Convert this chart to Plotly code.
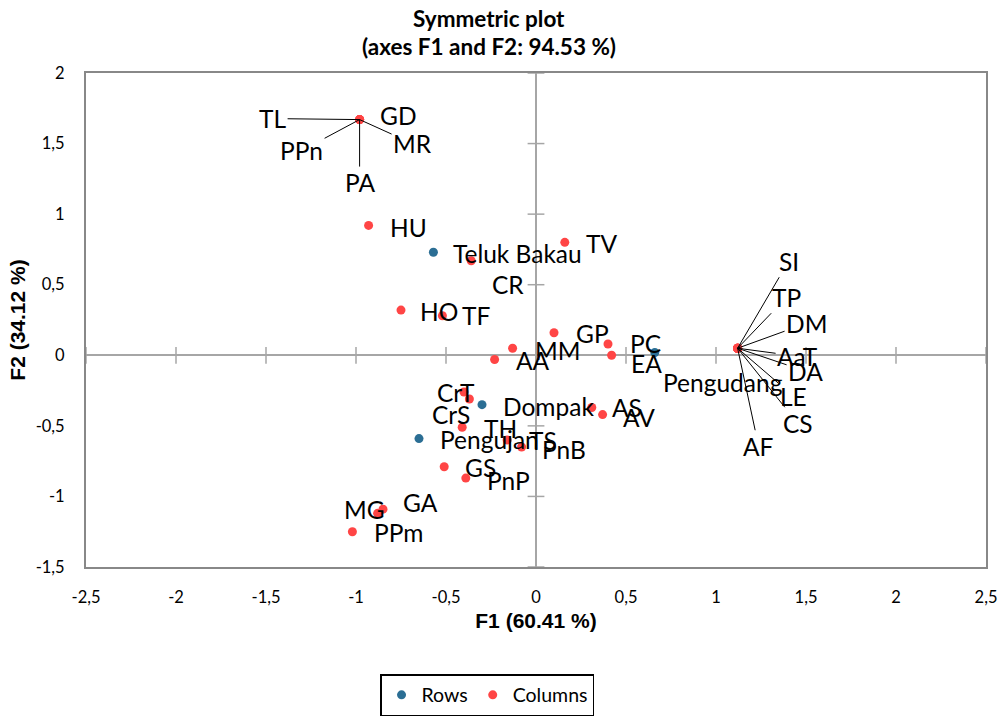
import plotly.graph_objects as go

# ---------------- data ----------------
row_labels = ["Teluk Bakau", "Dompak", "Pengujan", "Pengudang"]
row_f1 = [-0.57, -0.30, -0.65, 0.66]
row_f2 = [0.73, -0.35, -0.59, 0.02]

col_labels = ["TL", "GD", "PPn", "MR", "PA",
              "HU", "TV", "CR", "HO", "TF", "GP", "MM", "AA", "PC", "EA",
              "SI", "TP", "DM", "AaT", "DA", "LE", "CS", "AF",
              "AS", "AV", "CrT", "CrS", "TH", "TS", "PnB", "GS", "PnP", "GA", "MG", "PPm"]
col_f1 = [-0.98, -0.98, -0.98, -0.98, -0.98,
          -0.93, 0.16, -0.36, -0.75, -0.52, 0.10, -0.13, -0.23, 0.40, 0.42,
          1.12, 1.12, 1.12, 1.12, 1.12, 1.12, 1.12, 1.12,
          0.31, 0.37, -0.40, -0.37, -0.41, -0.16, -0.08, -0.51, -0.39, -0.85, -0.88, -1.02]
col_f2 = [1.67, 1.67, 1.67, 1.67, 1.67,
          0.92, 0.80, 0.67, 0.32, 0.28, 0.16, 0.05, -0.03, 0.08, 0.00,
          0.05, 0.05, 0.05, 0.05, 0.05, 0.05, 0.05, 0.05,
          -0.37, -0.42, -0.26, -0.31, -0.51, -0.60, -0.65, -0.79, -0.87, -1.09, -1.12, -1.25]

x_ticks = [-2.5, -2, -1.5, -1, -0.5, 0, 0.5, 1, 1.5, 2, 2.5]
x_ticktext = ["-2,5", "-2", "-1,5", "-1", "-0,5", "0", "0,5", "1", "1,5", "2", "2,5"]
y_ticks = [-1.5, -1, -0.5, 0, 0.5, 1, 1.5, 2]
y_ticktext = ["-1,5", "-1", "-0,5", "0", "0,5", "1", "1,5", "2"]

title_lines = ["Symmetric plot", "(axes F1 and F2: 94.53 %)"]

# ---------------- label placement (pixels) ----------------
# leader-line labels: (ax, ay) offset of text centre from point
leader_pos = {
    "TL": (-87, -1), "PPn": (-58, 31), "MR": (53, 24), "PA": (0, 63),
    "SI": (51, -87), "TP": (49, -51), "DM": (69, -25), "AaT": (60, 8),
    "DA": (68, 23), "LE": (56, 48), "CS": (60, 75), "AF": (21, 98),
}
# plain labels: (left-edge dx, centre dy) from point, dy positive = down
plain_pos = {
    "GD": (20, -4), "HU": (21, 2), "TV": (21, 1), "CR": (21, 24), "HO": (19, 1),
    "TF": (20, 0), "GP": (22, 1), "MM": (22, 2), "AA": (21, 1), "PC": (22, 0),
    "EA": (19, 8), "AS": (20, 0), "AV": (20, 3), "CrT": (-27, 1), "CrS": (-37, 15),
    "TH": (22, 1), "TS": (22, 1), "PnB": (20, 2), "GS": (21, 1), "PnP": (21, 2),
    "GA": (20, -7), "MG": (-34, -4), "PPm": (22, 1),
    "Teluk Bakau": (20, 1), "Dompak": (21, 2), "Pengujan": (21, 1), "Pengudang": (8, 30),
}

RED = "#FF4545"
BLUE = "#2B6E94"
LABEL_FONT = dict(family="Lato", size=24.5, color="black")

fig = go.Figure()

# small cross ticks on the zero lines
fig.add_trace(go.Scatter(
    x=[v for v in x_ticks if v != 0], y=[0] * (len(x_ticks) - 1),
    mode="markers", marker=dict(symbol="line-ns", size=12, line=dict(color="#A6A6A6", width=1.5)),
    hoverinfo="skip", showlegend=False))
fig.add_trace(go.Scatter(
    x=[0] * (len(y_ticks) - 1), y=[v for v in y_ticks if v != 0],
    mode="markers", marker=dict(symbol="line-ew", size=12, line=dict(color="#A6A6A6", width=1.5)),
    hoverinfo="skip", showlegend=False))

fig.add_trace(go.Scatter(x=row_f1, y=row_f2, mode="markers", name="Rows",
                         marker=dict(color=BLUE, size=9), text=row_labels))
fig.add_trace(go.Scatter(x=col_f1, y=col_f2, mode="markers", name="Columns",
                         marker=dict(color=RED, size=9), text=col_labels))

annotations = []
for names, xs, ys in ((row_labels, row_f1, row_f2), (col_labels, col_f1, col_f2)):
    for n, xv, yv in zip(names, xs, ys):
        if n in leader_pos:
            ax, ay = leader_pos[n]
            annotations.append(dict(x=xv, y=yv, text=n, showarrow=True, ax=ax, ay=ay,
                                    arrowhead=0, arrowwidth=1, arrowcolor="black",
                                    standoff=0, startstandoff=0, font=LABEL_FONT))
        else:
            dx, dy = plain_pos[n]
            annotations.append(dict(x=xv, y=yv, text=n, showarrow=False,
                                    xanchor="left", yanchor="middle",
                                    xshift=dx - 2, yshift=-dy, font=LABEL_FONT))

# two-line chart title
for txt, yy in zip(title_lines, [1.111, 1.0546]):
    annotations.append(dict(xref="paper", yref="paper", x=0.4478, y=yy, text="<b>" + txt + "</b>",
                            showarrow=False, xanchor="center", yanchor="middle",
                            font=dict(family="Lato", size=22.5, color="black")))

fig.update_layout(
    width=998, height=717,
    paper_bgcolor="white", plot_bgcolor="white",
    margin=dict(l=86, r=12, t=73, b=150, autoexpand=False),
    showlegend=True,
    legend=dict(orientation="h", x=0.4456, xanchor="center", y=-0.217, yanchor="top",
                bordercolor="black", borderwidth=1.5,
                font=dict(family="Lato", size=19.5, color="black")),
    annotations=annotations,
    xaxis=dict(range=[-2.5, 2.5], tickvals=x_ticks, ticktext=x_ticktext, automargin=False,
               showgrid=False, zeroline=True, zerolinecolor="#A6A6A6", zerolinewidth=1.5,
               showline=True, mirror=True, linecolor="#888888", linewidth=2,
               ticks="", ticklabelstandoff=14,
               tickfont=dict(family="Lato", size=16.5, color="black"),
               title=dict(text="<b>F1 (60.41 %)</b>", standoff=8,
                          font=dict(family="Liberation Sans", size=21, color="black"))),
    yaxis=dict(range=[-1.5, 2], tickvals=y_ticks, ticktext=y_ticktext, automargin=False,
               showgrid=False, zeroline=True, zerolinecolor="#A6A6A6", zerolinewidth=1.5,
               showline=True, mirror=True, linecolor="#888888", linewidth=2,
               ticks="", ticklabelstandoff=16,
               tickfont=dict(family="Lato", size=16.5, color="black"),
               title=dict(text="<b>F2 (34.12 %)</b>", standoff=4,
                          font=dict(family="Liberation Sans", size=21, color="black"))),
)

fig.write_html("out.html", config={"displayModeBar": False},
               post_script="document.body.style.margin='0';document.body.style.overflow='hidden';")
